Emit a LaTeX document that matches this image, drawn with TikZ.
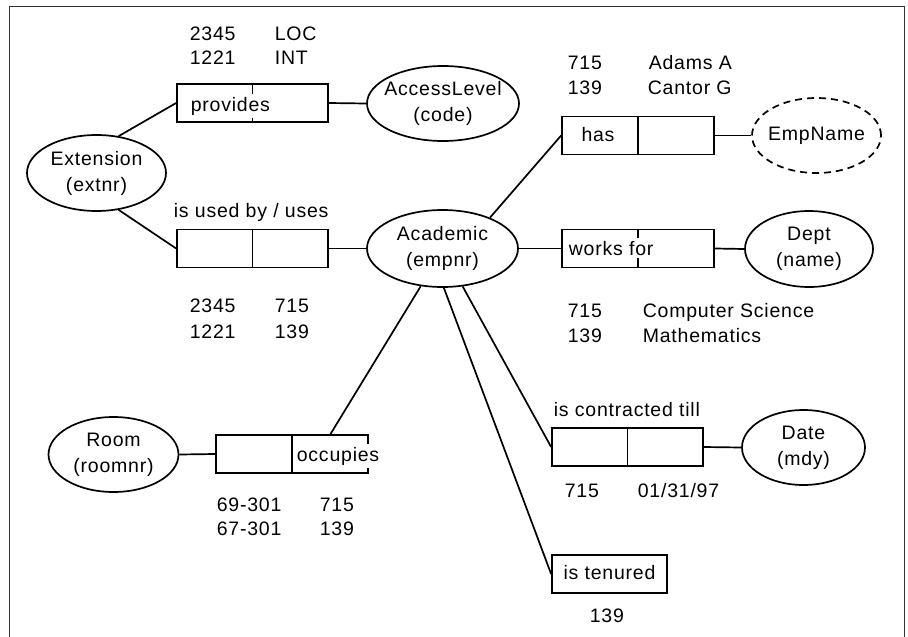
\documentclass[tikz,border=0pt]{standalone}
\usepackage{fontspec}
\setmainfont{Liberation Sans}[LetterSpace=4]
\usetikzlibrary{shapes.geometric,calc}
\begin{document}
\begin{tikzpicture}[x=1pt,y=-1pt,line width=1.7pt,
  every node/.style={font=\fontsize{19.5}{26}\selectfont},
  ent/.style={ellipse,draw,inner sep=0pt},
  rel/.style={draw,rectangle,inner sep=0pt,minimum height=38pt},
  lab/.style={inner sep=0pt,anchor=base west},
  elab/.style={align=center,inner sep=0pt},
  cover/.style={fill=white,inner xsep=1pt,inner ysep=2.5pt,anchor=base west}]
\useasboundingbox (0,0) rectangle (908,637);
\draw[line width=1pt,black!80] (9,640) -- (9,6) -- (904,6) -- (904,640);

% entity ellipses
\node[ent,minimum width=152pt,minimum height=75pt] (al) at (443,103.5) {};
\node[ent,minimum width=139pt,minimum height=76pt] (ext) at (96.5,173) {};
\node[ent,minimum width=151pt,minimum height=77pt] (ac) at (442.5,248.5) {};
\node[ent,dashed,dash pattern=on 7pt off 5pt,minimum width=129pt,minimum height=75pt] (en) at (816.5,135.5) {};
\node[ent,minimum width=128pt,minimum height=76pt] (dept) at (809,249) {};
\node[ent,minimum width=123pt,minimum height=75pt] (date) at (803.5,447.5) {};
\node[ent,minimum width=130pt,minimum height=75pt] (room) at (113.5,454.5) {};

\node[elab] at (al) {AccessLevel\\(code)};
\node[elab] at (ext) {Extension\\(extnr)};
\node[elab] at (ac) {Academic\\(empnr)};
\node[elab] at (en) {EmpName};
\node[elab] at (dept) {Dept\\(name)};
\node[elab] at (date) {Date\\(mdy)};
\node[elab] at (room) {Room\\(roomnr)};

% role boxes
\node[rel,minimum width=151pt] (pb) at (252.5,103) {};
\node[rel,minimum width=151pt] (ub) at (252.5,248.5) {};
\node[rel,minimum width=152pt] (hb) at (638,135.5) {};
\node[rel,minimum width=152pt] (wb) at (638,248.5) {};
\node[rel,minimum width=151pt] (cb) at (627.5,447) {};
\node[rel,minimum width=152pt] (ob) at (292,454) {};
\node[rel,minimum width=115pt] (tb) at (609.5,574) {};

\foreach \b in {pb,ub,hb,wb,cb,ob} \draw (\b.north) -- (\b.south);

% texts inside boxes
\node[cover] at (189,111) {provides};
\node[cover] at (567,255) {works for};
\node[cover] at (295,461) {occupies};
\node[lab,anchor=base] at (598,141) {has};
\node[lab,anchor=base] at (tb.center |- 0,579.5) {is tenured};

% labels above boxes
\node[lab] at (173,217) {is used by / uses};
\node[lab] at (553,416) {is contracted till};

% population
\node[lab] at (189,40) {2345};
\node[lab] at (274,40) {LOC};
\node[lab] at (189,64) {1221};
\node[lab] at (274,64) {INT};

\node[lab] at (189,312.5) {2345};
\node[lab] at (274,312.5) {715};
\node[lab] at (189,338) {1221};
\node[lab] at (274,338) {139};

\node[lab] at (567,69) {715};
\node[lab] at (648,69) {Adams A};
\node[lab] at (567,94) {139};
\node[lab] at (647,94) {Cantor G};

\node[lab] at (567,317) {715};
\node[lab] at (642,317) {Computer Science};
\node[lab] at (567,342) {139};
\node[lab] at (642,342) {Mathematics};

\node[lab] at (216,511) {69-301};
\node[lab] at (319,511) {715};
\node[lab] at (216,535) {67-301};
\node[lab] at (319,535) {139};

\node[lab] at (564,497) {715};
\node[lab] at (637,497) {01/31/97};

\node[lab] at (589,622) {139};

% connectors
\draw (ext.59) -- (pb.west);
\draw (ext.-59) -- (ub.west);
\draw (pb.east) -- (al.west);
\draw (ub.east) -- (ac.west);
\draw (ac.33) -- (hb.west);
\draw (hb.east) -- (en.west);
\draw (ac.east) -- (wb.west);
\draw (wb.east) -- (dept.west);
\draw (ac.-62) -- (cb.west);
\draw (cb.east) -- (date.west);
\draw (ac.-88) -- (tb.west);
\draw (ac.-120) -- ($(ob.north)!0.5!(ob.north east)$);
\draw (room.east) -- (ob.west);
\end{tikzpicture}
\end{document}
